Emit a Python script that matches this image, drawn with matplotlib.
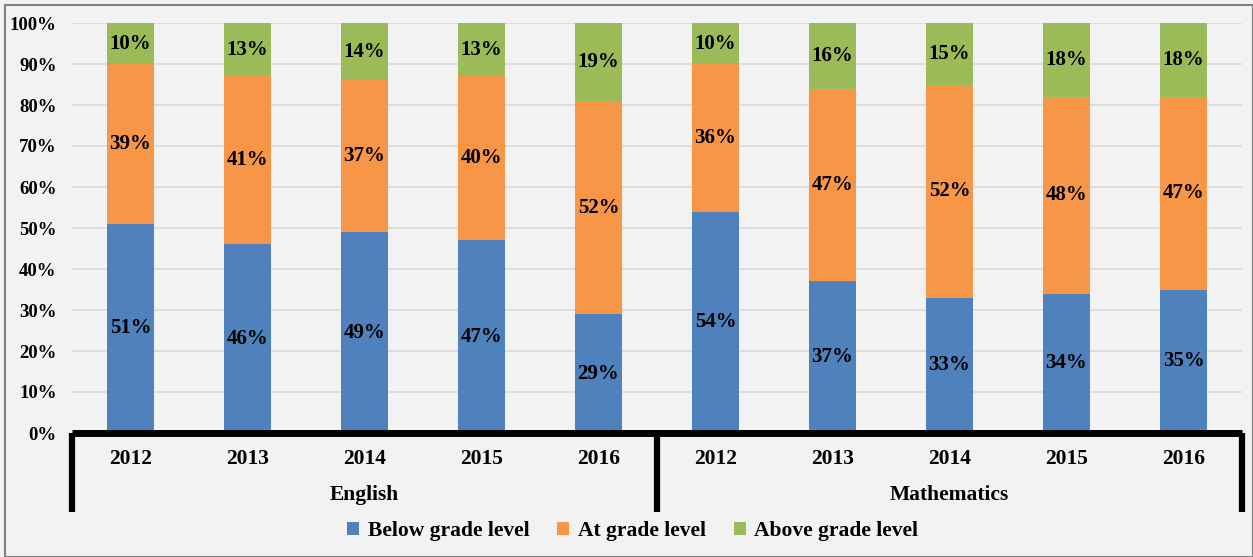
import matplotlib.pyplot as plt
import numpy as np
from matplotlib.patches import Rectangle

# data
years = ['2012', '2013', '2014', '2015', '2016']
groups = ['English', 'Mathematics']
below = [51, 46, 49, 47, 29, 54, 37, 33, 34, 35]
at = [39, 41, 37, 40, 52, 36, 47, 52, 48, 47]
above = [10, 13, 14, 13, 19, 10, 16, 15, 18, 18]
series_names = ['Below grade level', 'At grade level', 'Above grade level']
colors = ['#4F81BD', '#F79646', '#9BBB59']

plt.rcParams['font.family'] = ['Liberation Serif', 'DejaVu Serif']
plt.rcParams['font.weight'] = 'bold'

fig = plt.figure(figsize=(12.53, 5.57), dpi=100, facecolor='#F2F2F2')
ax = fig.add_axes([72/1253, 1-433/557, 1170/1253, 410/557])
ax.set_facecolor('#F2F2F2')

x = np.arange(len(below))
bottom = np.zeros(len(below))
for vals, name, col in zip([below, at, above], series_names, colors):
    vals = np.array(vals)
    ax.bar(x, vals, 0.4, bottom=bottom, color=col, label=name, zorder=3)
    for xi, b, v in zip(x, bottom, vals):
        ax.text(xi, b + v/2, f'{v}%', ha='center', va='center',
                fontsize=15, fontweight='bold', zorder=4)
    bottom = bottom + vals

ax.set_xlim(-0.5, len(below) - 0.5)
ax.set_ylim(0, 100)
ax.set_yticks(range(0, 101, 10))
ax.set_yticklabels([f'{v}%' for v in range(0, 101, 10)], fontsize=13.5, fontweight='bold')
ax.yaxis.grid(True, color='#D9D9D9', linewidth=1.2, zorder=0)
ax.tick_params(axis='y', length=0, pad=11)
ax.set_xticks([])
for s in ax.spines.values():
    s.set_visible(False)

# category axis with group dividers
tr = ax.get_xaxis_transform()
ax.plot([-0.5, len(below) - 0.5], [0, 0], color='black', lw=5, transform=tr,
        clip_on=False, zorder=5, solid_capstyle='butt')
for xv in [-0.5, 4.5, 9.5]:
    ax.plot([xv, xv], [0, -0.193], color='black', lw=4.5, transform=tr,
            clip_on=False, zorder=5, solid_capstyle='butt')
for i in range(len(below)):
    ax.text(i, -0.063, years[i % 5], ha='center', va='center', transform=tr,
            fontsize=15.5, fontweight='bold')
for g, name in enumerate(groups):
    ax.text(g * 5 + 2, -0.151, name, ha='center', va='center', transform=tr,
            fontsize=15.5, fontweight='bold')

fig.legend(loc='center', bbox_to_anchor=(0.505, 1 - 531/557), ncol=3, frameon=False,
           prop={'size': 15.5, 'weight': 'bold'}, handlelength=0.55, handleheight=0.55,
           handletextpad=0.4, columnspacing=1.3)

fig.patches.append(Rectangle((5/1253, 0), 1 - 5/1253, 1 - 5/557, transform=fig.transFigure,
                             fill=False, edgecolor='#7F7F7F', lw=1.5))

fig.savefig('out.png', dpi=100, facecolor=fig.get_facecolor())
